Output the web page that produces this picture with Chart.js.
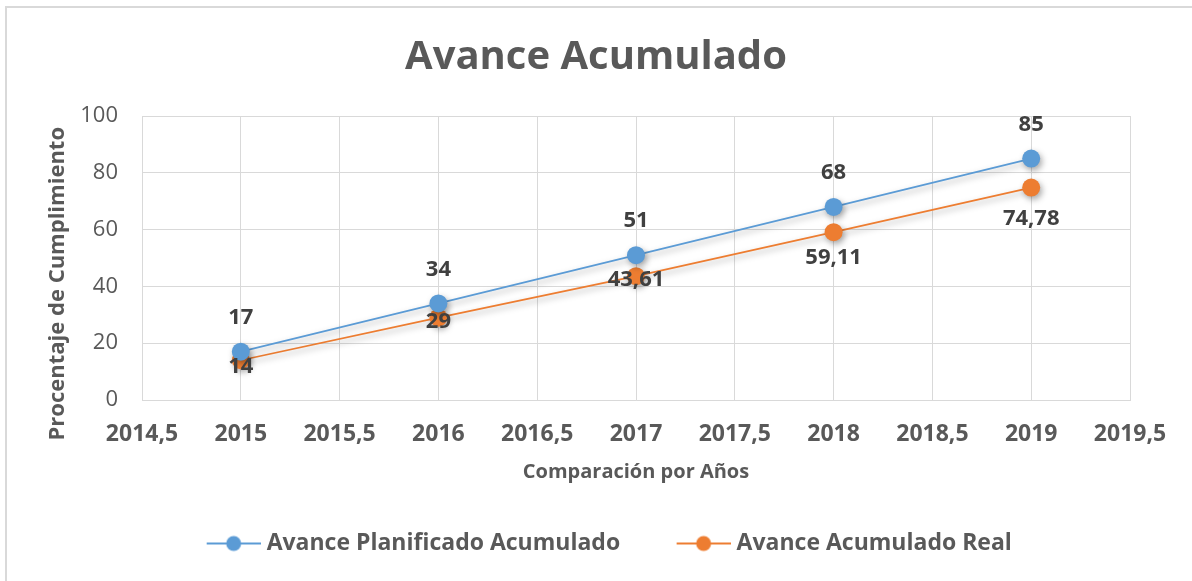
<!DOCTYPE html>
<html>
<head>
<meta charset="utf-8">
<script src="https://cdn.jsdelivr.net/npm/chart.js@4"></script>
<style>
  html, body { margin: 0; padding: 0; background: #fff; }
  #wrap { position: relative; width: 1192px; height: 581px; }
  #frame { position: absolute; left: 5px; top: 6px; width: 1200px; height: 600px;
           border-left: 2px solid #d9d9d9; border-top: 2px solid #d9d9d9; }
  canvas { position: absolute; left: 0; top: 0; }
</style>
</head>
<body>
<div id="wrap">
  <div id="frame"></div>
  <canvas id="chart1" width="1192" height="581"></canvas>
</div>
<script>
// datos
const anios = [2015, 2016, 2017, 2018, 2019];
const planificado = [17, 34, 51, 68, 85];
const real = [14, 29, 43.61, 59.11, 74.78];
const ejeY = [0, 20, 40, 60, 80, 100];
const ejeX = [2014.5, 2015, 2015.5, 2016, 2016.5, 2017, 2017.5, 2018, 2018.5, 2019, 2019.5];

const azul = "#5B9BD5";
const naranja = "#ED7D31";
const gris = "#595959";
const fuente = "'Open Sans', 'Noto Sans', sans-serif";

function coma(v){
    return String(v).replace('.', ',');
}

// icono de leyenda: linea con circulo (margen transparente a la izquierda)
function iconoLeyenda(color){
    const c = document.createElement('canvas');
    c.width = 86; c.height = 20;
    const g = c.getContext('2d');
    g.strokeStyle = color;
    g.lineWidth = 2;
    g.beginPath(); g.moveTo(32, 10); g.lineTo(86, 10); g.stroke();
    g.fillStyle = color;
    g.beginPath(); g.arc(59, 10, 7.5, 0, Math.PI * 2); g.fill();
    return c;
}

// sombra en lineas y puntos
const sombra = {
    id: 'sombra',
    beforeDatasetsDraw(chart){
        const ctx = chart.ctx;
        ctx.save();
        ctx.shadowColor = 'rgba(0,0,0,0.35)';
        ctx.shadowBlur = 6;
        ctx.shadowOffsetX = 2;
        ctx.shadowOffsetY = 3;
    },
    afterDatasetsDraw(chart){
        chart.ctx.restore();
    }
};

// etiquetas de datos
const etiquetas = {
    id: 'etiquetas',
    afterDatasetsDraw(chart){
        const ctx = chart.ctx;
        ctx.save();
        ctx.font = "bold 22px " + fuente;
        ctx.fillStyle = "#404040";
        ctx.textAlign = 'center';
        ctx.textBaseline = 'middle';
        chart.data.datasets.forEach(function(ds, i){
            const meta = chart.getDatasetMeta(i);
            meta.data.forEach(function(pt, j){
                ctx.fillText(coma(ds.data[j].y), pt.x, pt.y + ds.desplazamiento[j]);
            });
        });
        ctx.restore();
    }
};

const ctx = document.getElementById('chart1').getContext('2d');

const myChart = new Chart(ctx, {
    type: 'line',
    data: {
        datasets: [{
            label: 'Avance Planificado Acumulado',
            data: anios.map((a, i) => ({x: a, y: planificado[i]})),
            borderColor: azul,
            backgroundColor: azul,
            borderWidth: 1.75,
            pointRadius: 9,
            pointBorderWidth: 0,
            desplazamiento: [-34, -34, -34, -34, -34]
        }, {
            label: 'Avance Acumulado Real',
            data: anios.map((a, i) => ({x: a, y: real[i]})),
            borderColor: naranja,
            backgroundColor: naranja,
            borderWidth: 1.75,
            pointRadius: 9,
            pointBorderWidth: 0,
            desplazamiento: [6, 4, 4, 26, 31]
        }]
    },
    plugins: [sombra, etiquetas],
    options: {
        responsive: false,
        animation: false,
        layout: { padding: { top: 20, right: 0, bottom: 16, left: 0 } },
        scales: {
            x: {
                type: 'linear',
                min: 2014.5,
                max: 2019.5,
                afterBuildTicks(scale){ scale.ticks = ejeX.map(v => ({value: v})); },
                afterFit(scale){ scale.height = 102; },
                grid: { color: '#d9d9d9', drawTicks: false },
                border: { color: '#d9d9d9' },
                ticks: {
                    padding: 21,
                    color: gris,
                    font: { family: fuente, size: 23, weight: 'bold' },
                    callback: v => coma(v)
                },
                title: {
                    display: true,
                    text: 'Comparación por Años',
                    color: gris,
                    font: { family: fuente, size: 20, weight: 'bold' },
                    padding: { top: 12, bottom: 18 }
                }
            },
            y: {
                min: 0,
                max: 100,
                afterBuildTicks(scale){ scale.ticks = ejeY.map(v => ({value: v})); },
                afterFit(scale){ scale.width = 142; },
                grid: { color: '#d9d9d9', drawTicks: false },
                border: { color: '#d9d9d9' },
                ticks: {
                    padding: 24,
                    color: gris,
                    font: { family: fuente, size: 22 }
                },
                title: {
                    display: true,
                    text: 'Procentaje de Cumplimiento' + ' '.repeat(9),
                    color: gris,
                    font: { family: fuente, size: 22, weight: 'bold' },
                    padding: { top: 45, bottom: 0 }
                }
            },
            // eje vacio a la derecha para dejar el hueco
            y2: {
                position: 'right',
                min: 0,
                max: 100,
                afterFit(scale){ scale.width = 62; },
                grid: { display: false },
                border: { display: false },
                ticks: { display: false }
            }
        },
        plugins: {
            title: {
                display: true,
                text: 'Avance Acumulado',
                color: gris,
                font: { family: fuente, size: 40, weight: 'bold' },
                padding: { top: 14, bottom: 34 }
            },
            legend: {
                position: 'bottom',
                labels: {
                    usePointStyle: true,
                    pointStyleWidth: 75,
                    padding: 30,
                    color: gris,
                    font: { family: fuente, size: 23, weight: 'bold' },
                    generateLabels(chart){
                        return chart.data.datasets.map((ds, i) => ({
                            text: ds.label,
                            pointStyle: iconoLeyenda(ds.borderColor),
                            fillStyle: ds.borderColor,
                            strokeStyle: ds.borderColor,
                            lineWidth: 0,
                            hidden: false,
                            datasetIndex: i,
                            fontColor: gris
                        }));
                    }
                }
            },
            tooltip: { enabled: false }
        }
    }
});
</script>
</body>
</html>
